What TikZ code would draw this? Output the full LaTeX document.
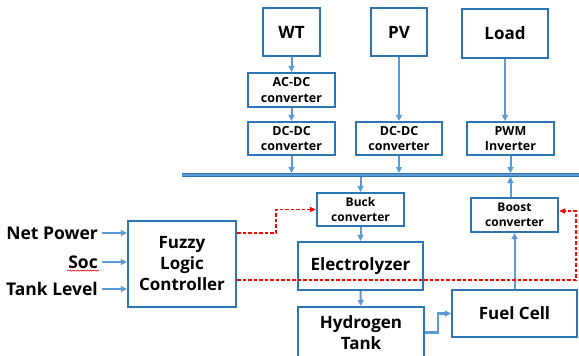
\documentclass[tikz,border=0pt]{standalone}
\usepackage{fontspec}
\setmainfont{Open Sans}
\usetikzlibrary{arrows.meta,decorations.pathmorphing}
\definecolor{boxblue}{HTML}{2E75B6}
\definecolor{lineblue}{HTML}{5B9BD5}
\tikzset{
 blk/.style={draw=boxblue,line width=2.2pt,fill=white,align=center,inner sep=1pt,font=\bfseries},
 big/.style={blk,font=\fontsize{17}{21}\selectfont\bfseries},
 cnv/.style={blk,font=\fontsize{12.5}{15.5}\selectfont\bfseries},
 arr/.style={draw=lineblue,line width=2pt,-{Triangle[length=6pt,width=6pt]}},
 ctrl/.style={draw=red,line width=1.2pt,dashed,dash pattern=on 3.5pt off 2pt,-{Triangle[length=6pt,width=5pt]}},
 inp/.style={anchor=east,inner sep=1pt,font=\fontsize{17.5}{20}\selectfont\bfseries}
}
\begin{document}
\begin{tikzpicture}[x=1pt,y=-1pt]
 \useasboundingbox (0,0) rectangle (579,356);
 % sources and load
 \node[big,minimum width=57pt,minimum height=48pt] (wt) at (291.5,32) {WT};
 \node[big,minimum width=56pt,minimum height=48pt] (pv) at (399,32) {PV};
 \node[big,minimum width=86pt,minimum height=49pt] (load) at (505,33.5) {Load};
 % converters above the bus
 \node[cnv,minimum width=87pt,minimum height=34pt] (acdc) at (291.5,90) {AC-DC\\converter};
 \node[cnv,minimum width=87pt,minimum height=33pt] (dcw) at (291.5,138.5) {DC-DC\\converter};
 \node[cnv,minimum width=86pt,minimum height=33pt] (dcp) at (399,138.5) {DC-DC\\converter};
 \node[cnv,minimum width=87pt,minimum height=33pt] (pwm) at (510.5,138.5) {PWM\\Inverter};
 % dc bus
 \coordinate (busL) at (182,175);
 \coordinate (busR) at (579,175);
 \draw[boxblue,line width=4.6pt] (busL) -- (busR);
 \draw[lineblue,line width=2.4pt] (busL) -- (busR);
 % storage side
 \node[cnv,font=\fontsize{12}{15}\selectfont\bfseries,minimum width=87pt,minimum height=33pt] (buck) at (360.5,209.5) {Buck\\converter};
 \node[cnv,font=\fontsize{12}{15}\selectfont\bfseries,minimum width=87pt,minimum height=34pt] (boost) at (514.5,215) {Boost\\converter};
 \node[big,minimum width=125pt,minimum height=48pt] (elec) at (360.5,266) {Electrolyzer};
 \node[big,minimum width=126pt,minimum height=51pt] (tank) at (361,332.5) {Hydrogen\\Tank};
 \node[big,minimum width=125pt,minimum height=47pt] (fc) at (514.5,313.5) {Fuel Cell};
 % controller and inputs
 \node[big,minimum width=108pt,minimum height=86pt] (flc) at (182,264) {Fuzzy\\Logic\\Controller};
 \node[inp] (np) at (99,233) {Net Power};
 \node[inp] (soc) at (99,262) {Soc};
 \node[inp] (tl) at (99,289) {Tank Level};
 \draw[red,line width=0.5pt,decorate,decoration={snake,amplitude=0.6pt,segment length=2.5pt}] ([yshift=-1pt]soc.south west) -- ([yshift=-1pt]soc.south east);
 % power flow
 \draw[arr] (wt) -- (acdc);
 \draw[arr] (acdc) -- (dcw);
 \draw[arr] (pv) -- (dcp);
 \draw[arr] (load.south) -- (load.south |- pwm.north);
 \draw[arr,shorten >=2pt] (dcw) -- (dcw.south |- busL);
 \draw[arr,shorten >=2pt] (dcp) -- (dcp.south |- busL);
 \draw[arr,shorten >=2pt] (pwm) -- (pwm.south |- busL);
 \draw[arr,shorten <=2pt] (buck.north |- busL) -- (buck);
 \draw[arr,shorten >=2pt] (pwm.south |- boost.north) -- (pwm.south |- busL);
 \draw[arr] (fc) -- (boost);
 \draw[arr] (buck) -- (elec);
 \draw[arr] (elec) -- (tank);
 \draw[arr,line width=2.2pt] (tank.east) -- ++(13,0) |- (fc.west);
 \foreach \src in {np,soc,tl}
  \draw[arr] (\src.east) ++(3,0) -- (flc.west |- \src.east);
 % control signals
 \draw[ctrl] (flc.east |- 0,233) -- (276,233) |- (buck.west);
 \draw[ctrl] (flc.east |- 0,280) -- (576,280) |- ([yshift=4pt]boost.east);
\end{tikzpicture}
\end{document}
